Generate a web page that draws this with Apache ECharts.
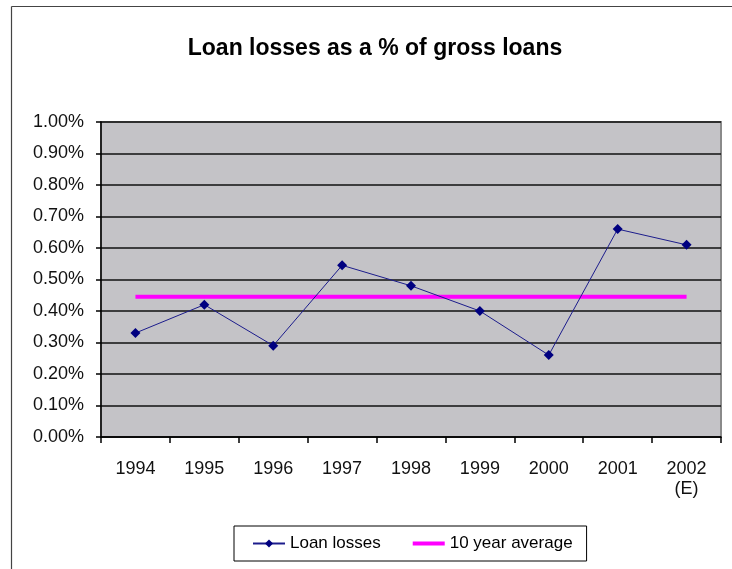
<!DOCTYPE html>
<html>
<head>
<meta charset="utf-8">
<script src="https://cdn.jsdelivr.net/npm/echarts@6/dist/echarts.min.js"></script>
<style>
  html, body { margin: 0; padding: 0; background: #fff; }
  #chart { width: 732px; height: 569px; }
</style>
</head>
<body>
<div id="chart"></div>
<script>
// Years on the category axis (2002 is an estimate)
const years = ['1994', '1995', '1996', '1997', '1998', '1999', '2000', '2001', '2002\n(E)'];
// Loan losses, in % of gross loans
const loanLosses = [0.33, 0.42, 0.29, 0.545, 0.48, 0.40, 0.26, 0.66, 0.61];
// Ten-year average, drawn flat across every year
const tenYearAverage = [0.445, 0.445, 0.445, 0.445, 0.445, 0.445, 0.445, 0.445, 0.445];
// Value axis range and step, in %
const yMin = 0, yMax = 1, yStep = 0.1;

const FONT = '"Liberation Sans", Arial, sans-serif';
const chart = echarts.init(document.getElementById('chart'), null, { renderer: 'canvas' });

chart.setOption({
  animation: false,
  backgroundColor: '#ffffff',
  title: {
    text: 'Loan losses as a % of gross loans',
    left: 370,
    textAlign: 'center',
    top: 32,
    textStyle: { fontFamily: FONT, fontSize: 23, fontWeight: 'bold', color: '#000' }
  },
  graphic: [
    { type: 'line', shape: { x1: 11.5, y1: 6.5, x2: 11.5, y2: 569 }, style: { stroke: '#444', lineWidth: 1.2 } },
    { type: 'line', shape: { x1: 11.5, y1: 6.5, x2: 732, y2: 6.5 }, style: { stroke: '#444', lineWidth: 1.2 } }
  ],
  grid: {
    left: 101, right: 11, top: 122, bottom: 132,
    show: true,
    backgroundColor: '#c4c3c7',
    borderColor: '#8a8a8a',
    borderWidth: 2
  },
  legend: {
    left: 234, top: 526,
    padding: [9, 14, 9, 18],
    itemWidth: 32,
    itemHeight: 10,
    itemGap: 32,
    symbolKeepAspect: true,
    backgroundColor: '#fff',
    borderColor: '#000',
    borderWidth: 1,
    borderRadius: 0,
    textStyle: { fontFamily: FONT, fontSize: 17, color: '#000' },
    data: [
      { name: 'Loan losses' },
      { name: '10 year average', icon: 'path://M0,0H34V4H0Z' }
    ]
  },
  xAxis: {
    type: 'category',
    data: years,
    boundaryGap: true,
    axisLine: { show: true, lineStyle: { color: '#000', width: 1.5 } },
    axisTick: { show: true, alignWithLabel: false, length: 6, lineStyle: { color: '#000', width: 1.5 } },
    axisLabel: {
      interval: 0, margin: 22,
      fontFamily: FONT, fontSize: 18, color: '#111', lineHeight: 20
    },
    splitLine: { show: false }
  },
  yAxis: {
    type: 'value',
    min: yMin, max: yMax, interval: yStep,
    axisLine: { show: true, lineStyle: { color: '#000', width: 1.5 } },
    axisTick: { show: true, length: 5, lineStyle: { color: '#000', width: 1.5 } },
    axisLabel: {
      margin: 17,
      fontFamily: FONT, fontSize: 18, color: '#111',
      formatter: v => v.toFixed(2) + '%'
    },
    splitLine: { show: true, lineStyle: { color: '#111', width: 1.6 } }
  },
  series: [
    {
      name: 'Loan losses',
      type: 'line',
      data: loanLosses,
      symbol: 'diamond',
      symbolSize: 10,
      lineStyle: { color: '#1c1c8c', width: 1 },
      itemStyle: { color: '#000080' },
      z: 3
    },
    {
      name: '10 year average',
      type: 'line',
      data: tenYearAverage,
      symbol: 'none',
      lineStyle: { color: '#ff00ff', width: 4 },
      itemStyle: { color: '#ff00ff' },
      z: 2
    }
  ]
});
</script>
</body>
</html>
